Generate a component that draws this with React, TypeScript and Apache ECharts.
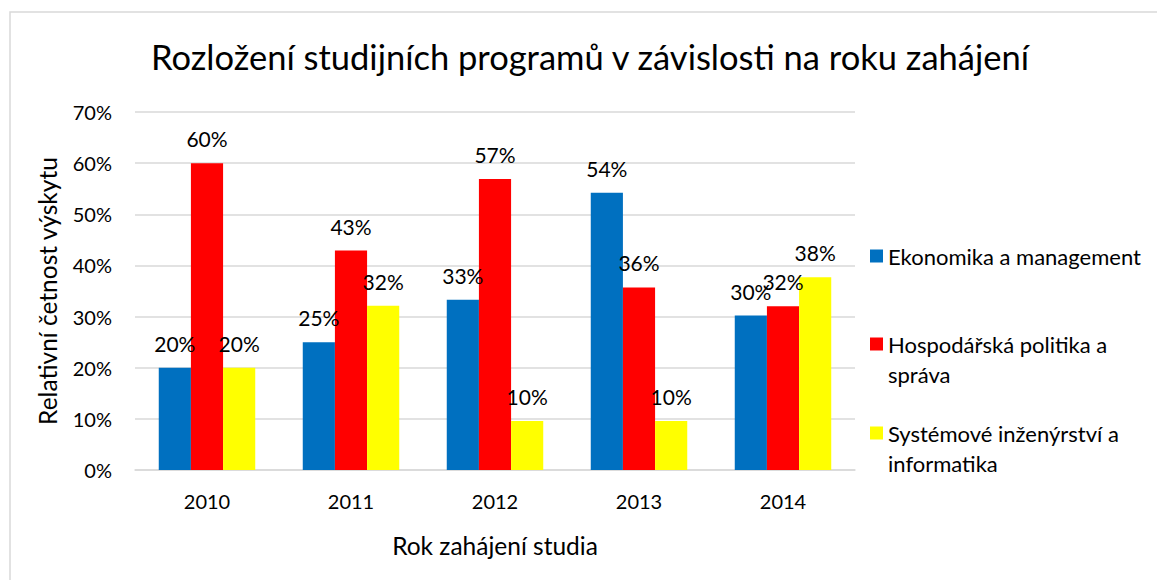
import React, { useEffect, useRef } from "react";
import * as echarts from "echarts";

const years = ["2010", "2011", "2012", "2013", "2014"];
const seriesNames = [
  "Ekonomika a management",
  "Hospodářská politika a správa",
  "Systémové inženýrství a informatika",
];
const ekonomika = [0.2, 0.25, 0.333, 0.542, 0.302];
const hospodarska = [0.6, 0.429, 0.569, 0.357, 0.32];
const systemove = [0.2, 0.321, 0.096, 0.096, 0.377];
const colors = ["#0070C0", "#FF0000", "#FFFF00"];
const legendLabels: Record<string, string> = {
  "Ekonomika a management": "Ekonomika a management",
  "Hospodářská politika a správa": "\nHospodářská politika a\nspráva",
  "Systémové inženýrství a informatika": "\nSystémové inženýrství a\ninformatika",
};

const FONT = "Lato";

export default function App() {
  const ref = useRef<HTMLDivElement>(null);
  useEffect(() => {
    if (!ref.current) return;
    const chart = echarts.init(ref.current, undefined, { renderer: "svg" });
    const dataSets = [ekonomika, hospodarska, systemove];
    const legendTops = [241, 299, 388];
    chart.setOption({
      animation: false,
      backgroundColor: "#ffffff",
      textStyle: { fontFamily: FONT },
      title: {
        text: "Rozložení studijních programů v závislosti na roku zahájení",
        left: 585,
        textAlign: "center",
        top: 34,
        textStyle: { fontFamily: FONT, fontSize: 34.5, fontWeight: "normal", color: "#000000" },
      },
      graphic: [
        {
          type: "rect",
          shape: { x: 10, y: 12, width: 1200, height: 620 },
          style: { fill: "none", stroke: "#d9d9d9", lineWidth: 1.5 },
          silent: true,
        },
      ],
      legend: seriesNames.map((n, i) => ({
        data: [n],
        orient: "vertical",
        left: 870,
        top: legendTops[i],
        padding: 0,
        itemWidth: 13,
        itemHeight: 13,
        icon: "rect",
        formatter: (name: string) => legendLabels[name],
        textStyle: { fontFamily: FONT, fontSize: 22, color: "#000000", lineHeight: 30 },
      })),
      grid: { left: 135, right: 302, top: 112, bottom: 110 },
      xAxis: {
        type: "category",
        data: years,
        axisTick: { show: false },
        axisLine: { lineStyle: { color: "#d9d9d9", width: 1.5 } },
        axisLabel: { fontFamily: FONT, fontSize: 20, color: "#000000", margin: 21 },
        name: "Rok zahájení studia",
        nameLocation: "middle",
        nameGap: 63,
        nameTextStyle: { fontFamily: FONT, fontSize: 24.5, color: "#000000" },
      },
      yAxis: {
        type: "value",
        min: 0,
        max: 0.7,
        interval: 0.1,
        axisLine: { show: false },
        axisTick: { show: false },
        splitLine: { lineStyle: { color: "#d9d9d9", width: 1.5 } },
        axisLabel: {
          fontFamily: FONT,
          fontSize: 20,
          color: "#000000",
          margin: 23,
          formatter: (v: number) => Math.round(v * 100) + "%",
        },
        name: "Relativní četnost výskytu",
        nameLocation: "middle",
        nameGap: 75,
        nameTextStyle: { fontFamily: FONT, fontSize: 24.5, color: "#000000" },
      },
      series: seriesNames.map((n, i) => ({
        name: n,
        type: "bar",
        data: dataSets[i],
        barGap: "0%",
        barCategoryGap: "33%",
        itemStyle: { color: colors[i] },
        label: {
          show: true,
          position: "top",
          distance: 14,
          fontFamily: FONT,
          fontSize: 21,
          color: "#000000",
          formatter: (p: any) => Math.round(p.value * 100) + "%",
        },
      })),
    });
    return () => chart.dispose();
  }, []);
  return (
    <div
      ref={ref}
      style={{ position: "absolute", left: 0, top: 0, width: 1157, height: 580, background: "#fff" }}
    />
  );
}
